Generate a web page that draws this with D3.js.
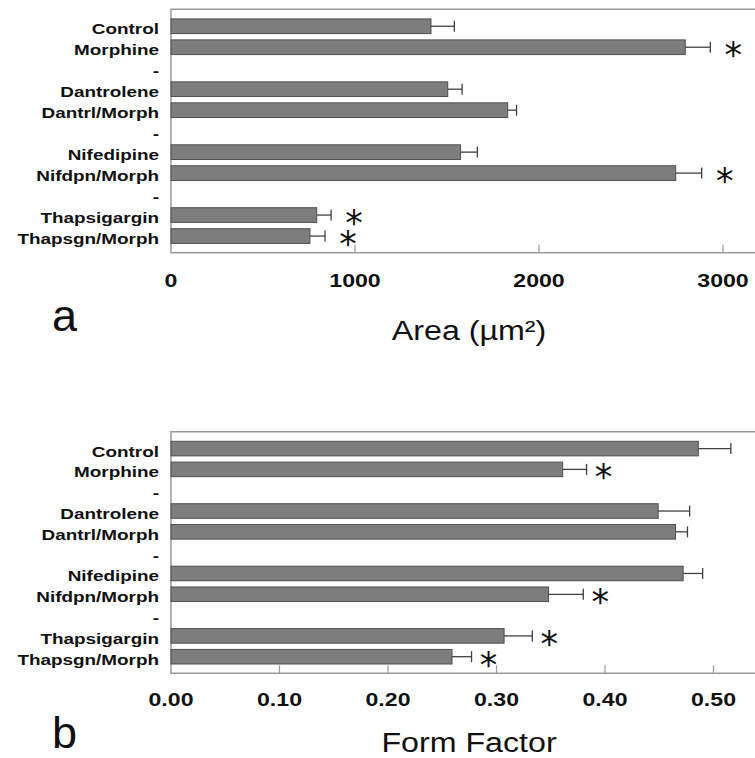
<!DOCTYPE html>
<html>
<head>
<meta charset="utf-8">
<script src="https://cdn.jsdelivr.net/npm/d3@7"></script>
<style>
  body { margin: 0; background: #fff; }
  svg { display: block; }
</style>
</head>
<body>
<div id="chart"></div>
<script>
// row labels, "-" rows are the spacers between groups
const rowLabels = ["Control", "Morphine", "-", "Dantrolene", "Dantrl/Morph", "-",
    "Nifedipine", "Nifdpn/Morph", "-", "Thapsigargin", "Thapsgn/Morph"];
const groups = ["Control", "Morphine", "Dantrolene", "Dantrl/Morph",
    "Nifedipine", "Nifdpn/Morph", "Thapsigargin", "Thapsgn/Morph"];

// panel a: area
const areaMean = [1413, 2795, 1504, 1830, 1574, 2743, 792, 755];
const areaSE = [127, 136, 78, 48, 91, 141, 78, 82];
const areaSig = [false, true, false, false, false, true, true, true];
const areaTicks = [0, 1000, 2000, 3000];

// panel b: form factor
const ffMean = [0.486, 0.361, 0.449, 0.465, 0.472, 0.348, 0.307, 0.259];
const ffSE = [0.030, 0.022, 0.029, 0.011, 0.018, 0.032, 0.026, 0.018];
const ffSig = [false, true, false, false, false, true, true, true];
const ffTicks = [0, 0.1, 0.2, 0.3, 0.4, 0.5];

const W = 755, H = 758;
const svg = d3.select("#chart").append("svg")
    .attr("width", W)
    .attr("height", H);

function stretchText(g, x, y, str, opts) {
    let t = g.append("g")
        .attr("transform", "translate(" + x + "," + y + ") scale(" + (opts.sx || 1) + ",1)")
        .append("text")
        .attr("x", 0)
        .attr("y", 0)
        .attr("text-anchor", opts.anchor || "start")
        .attr("font-family", opts.family || "'Liberation Sans', Arial, sans-serif")
        .attr("font-size", opts.size)
        .attr("font-weight", opts.weight || "normal")
        .attr("fill", "#111")
        .text(str);
    return t;
}

function panel(opt) {
    let {top, bottom, left, domainMax, mean, se, sig, ticks, fmt, title, letter,
        tickBase, titleBase, letterBase, starGap} = opt;
    let g = svg.append("g");

    let x = d3.scaleLinear()
        .domain([0, domainMax])
        .range([left, opt.right]);

    let y = d3.scaleBand()
        .domain(d3.range(rowLabels.length))
        .range([top + 9.6, bottom - 9.3])
        .paddingInner(0.3);

    // frame: top, left, bottom (right side runs off the picture)
    g.append("path")
        .attr("d", "M" + (W + 5) + "," + top + "H" + left + "V" + bottom + "H" + (W + 5))
        .attr("fill", "none")
        .attr("stroke", "#9a9a9a")
        .attr("stroke-width", 1.5);

    // ticks pointing inward
    g.selectAll(".tk")
        .data(ticks.filter(d => d > 0))
        .join("line")
        .attr("x1", d => x(d)).attr("x2", d => x(d))
        .attr("y1", bottom).attr("y2", bottom - 8)
        .attr("stroke", "#9a9a9a")
        .attr("stroke-width", 1.2);

    ticks.forEach(function (d) {
        stretchText(g, x(d), tickBase, fmt(d), {size: 18.5, weight: "bold", anchor: "middle", sx: 1.25});
    });

    // row labels
    rowLabels.forEach(function (lab, i) {
        stretchText(g, left - 12, y(i) + y.bandwidth() / 2 + 8, lab,
            {size: 15.5, weight: "bold", anchor: "end", sx: 1.22});
    });

    let rows = groups.map(function (name, k) {
        return {name: name, row: rowLabels.indexOf(name), v: mean[k], e: se[k], s: sig[k]};
    });

    g.selectAll(".bar")
        .data(rows)
        .join("rect")
        .attr("x", x(0))
        .attr("y", d => y(d.row))
        .attr("width", d => x(d.v) - x(0))
        .attr("height", y.bandwidth())
        .attr("fill", "#7d7d7d")
        .attr("stroke", "#505050")
        .attr("stroke-width", 1);

    let eb = g.selectAll(".err")
        .data(rows)
        .join("g")
        .attr("stroke", "#404040")
        .attr("stroke-width", 1.3);
    eb.append("line")
        .attr("x1", d => x(d.v)).attr("x2", d => x(d.v + d.e))
        .attr("y1", d => y(d.row) + y.bandwidth() / 2)
        .attr("y2", d => y(d.row) + y.bandwidth() / 2);
    eb.append("line")
        .attr("x1", d => x(d.v + d.e)).attr("x2", d => x(d.v + d.e))
        .attr("y1", d => y(d.row) + y.bandwidth() / 2 - 5.5)
        .attr("y2", d => y(d.row) + y.bandwidth() / 2 + 5.5);

    g.selectAll(".star")
        .data(rows.filter(d => d.s))
        .join("text")
        .attr("x", d => x(d.v + d.e) + starGap)
        .attr("y", d => y(d.row) + y.bandwidth() / 2 + 20)
        .attr("text-anchor", "middle")
        .attr("font-family", "'DejaVu Sans', sans-serif")
        .attr("font-size", 35)
        .attr("fill", "#111")
        .text("*");

    stretchText(g, 469, titleBase, title, {size: 28, anchor: "middle", sx: 1.15});
    stretchText(g, 52, letterBase, letter, {size: 45, anchor: "start"});
}

panel({
    top: 9.3, bottom: 252.7, left: 171, right: 723, domainMax: 3000,
    mean: areaMean, se: areaSE, sig: areaSig, ticks: areaTicks,
    fmt: d3.format("d"), title: "Area (µm²)", letter: "a",
    tickBase: 287, titleBase: 340, letterBase: 331, starGap: 23
});

panel({
    top: 431.7, bottom: 673.3, left: 171, right: 713.5, domainMax: 0.5,
    mean: ffMean, se: ffSE, sig: ffSig, ticks: ffTicks,
    fmt: d3.format(".2f"), title: "Form Factor", letter: "b",
    tickBase: 706, titleBase: 752, letterBase: 748, starGap: 17
});
</script>
</body>
</html>
